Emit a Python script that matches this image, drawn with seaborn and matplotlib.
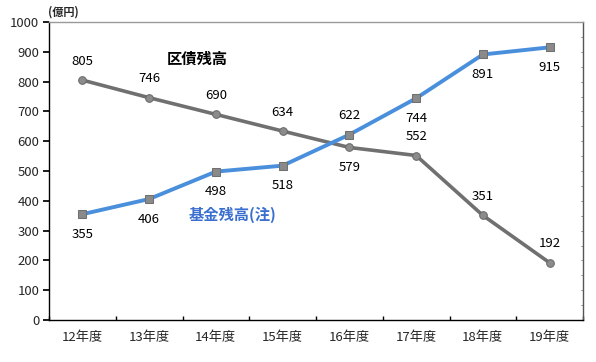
import matplotlib
matplotlib.use("Agg")
import matplotlib.pyplot as plt
import seaborn as sns
import pandas as pd
import numpy as np

years = ["12年度", "13年度", "14年度", "15年度", "16年度", "17年度", "18年度", "19年度"]
debt = [805, 746, 690, 634, 579, 552, 351, 192]
fund = [355, 406, 498, 518, 622, 744, 891, 915]
debt_label_pos = ["above", "above", "above", "above", "below", "above", "above", "above"]
fund_label_pos = ["below", "below", "below", "below", "above", "below", "below", "below"]

sns.set_theme(style="white")
plt.rcParams['font.family'] = ['Noto Sans CJK JP', 'DejaVu Sans']

fig = plt.figure(figsize=(5.96, 3.62), dpi=100)
ax = fig.add_axes([49/596, 1-320/362, (583-49)/596, (320-22)/362])

df = pd.DataFrame({"year": years, "debt": debt, "fund": fund})

sns.lineplot(data=df, x="year", y="debt", ax=ax, color="#707070", linewidth=2.6,
             marker="o", markersize=5.5, markerfacecolor="#8c8c8c", markeredgecolor="#6a6a6a",
             sort=False)
sns.lineplot(data=df, x="year", y="fund", ax=ax, color="#4a8fdc", linewidth=2.8,
             marker="s", markersize=5.5, markerfacecolor="#8a8a8a", markeredgecolor="#707070",
             sort=False)

for i, (v, p) in enumerate(zip(debt, debt_label_pos)):
    off = 19 if p == "above" else -20
    ax.annotate(str(v), (i, v), xytext=(0, off), textcoords="offset pixels",
                ha="center", va="center", fontsize=9.5, color="black")
for i, (v, p) in enumerate(zip(fund, fund_label_pos)):
    off = 19 if p == "above" else -20
    ax.annotate(str(v), (i, v), xytext=(0, off), textcoords="offset pixels",
                ha="center", va="center", fontsize=9.5, color="black")

ax.text(1.72, 878, "区債残高", fontsize=11, fontweight="bold", color="black", ha="center", va="center")
ax.text(2.25, 352, "基金残高(注)", fontsize=11, fontweight="bold", color="#3a6fd0", ha="center", va="center")
fig.text(63/596, 1-12/362, "(億円)", fontsize=8, fontweight="bold", ha="center", va="center")

ax.set_xlim(-0.5, 7.5)
ax.set_ylim(0, 1000)
ax.set_yticks(np.arange(0, 1001, 100))
ax.set_xticks(range(len(years)))
ax.set_xticklabels(years)
ax.set_xticks(np.arange(-0.5, 7.6, 1), minor=True)
ax.tick_params(axis="x", which="major", length=0, pad=8, labelsize=9.5)
ax.tick_params(axis="x", which="minor", length=3, direction="in", color="black", bottom=True)
ax.tick_params(axis="y", which="major", length=4, direction="out", color="black", labelsize=9.5, left=True, pad=3)
ax.set_xlabel("")
ax.set_ylabel("")

for s in ["left", "bottom"]:
    ax.spines[s].set_color("black")
    ax.spines[s].set_linewidth(1)
ax.spines["right"].set_color("#555555")
ax.spines["right"].set_linewidth(1)
ax.spines["top"].set_color("#999999")
ax.spines["top"].set_linestyle((0, (1, 1)))
ax.spines["top"].set_linewidth(1)

for y in np.arange(0, 1001, 50):
    ax.plot([7.5, 7.47], [y, y], color="#888888", lw=0.6, clip_on=False)

fig.savefig("out.png", dpi=100)
